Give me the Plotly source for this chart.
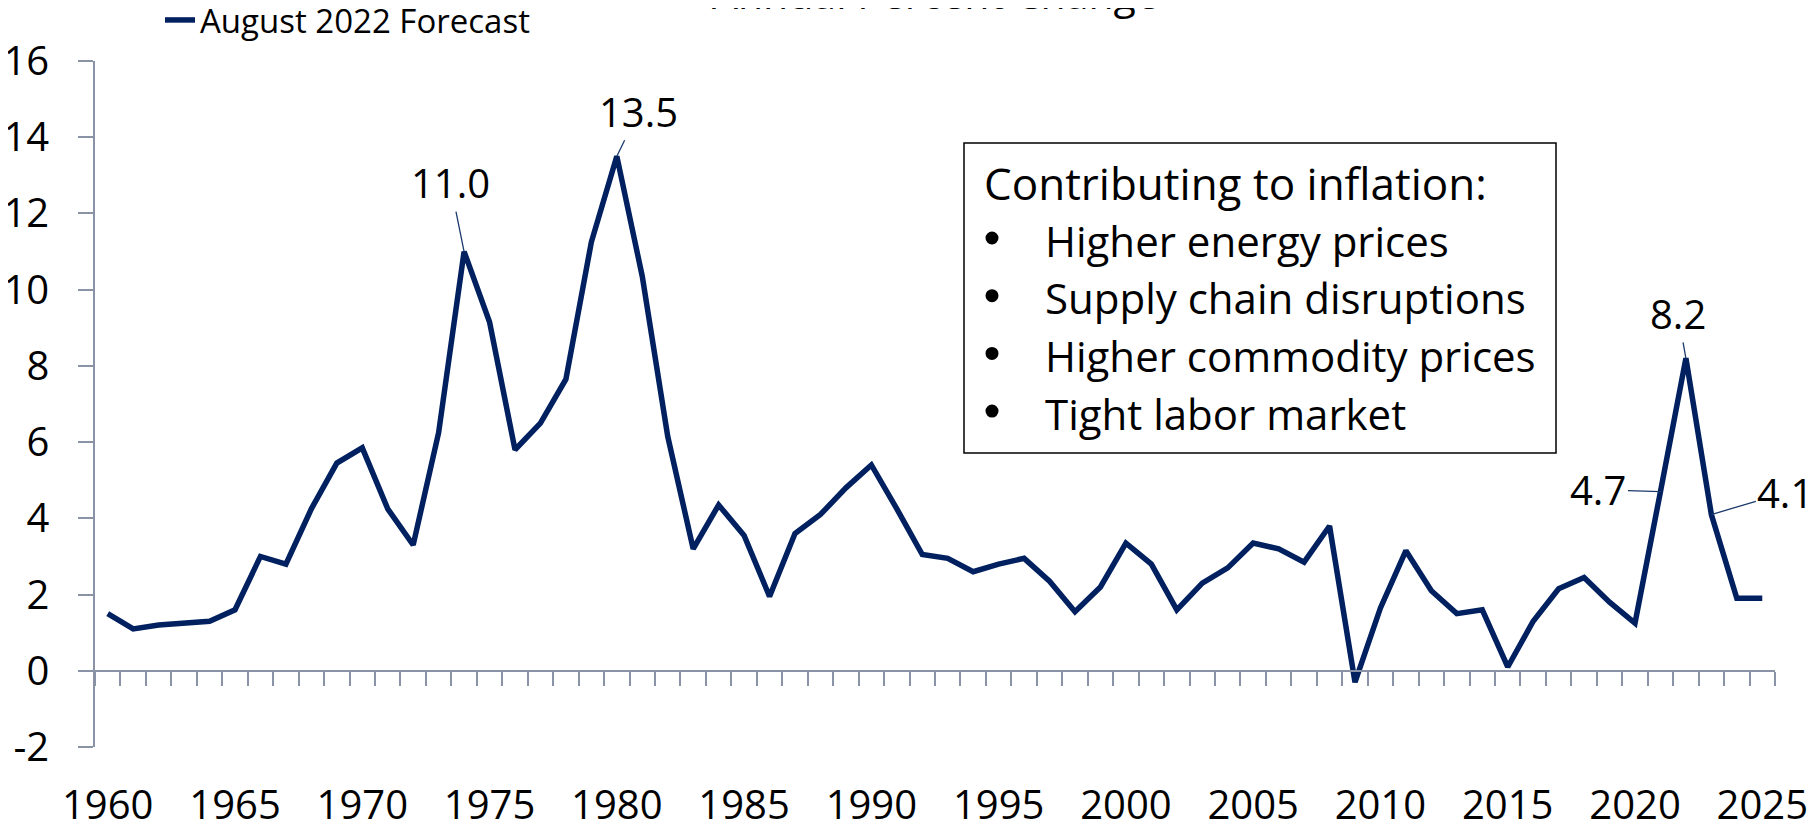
import plotly.graph_objects as go

# CPI, annual percent change (history + August 2022 forecast)
years = list(range(1960, 2026))
cpi = [1.5, 1.1, 1.2, 1.25, 1.3, 1.6, 3.0, 2.8, 4.25, 5.45,
       5.85, 4.25, 3.3, 6.25, 11.0, 9.15, 5.8, 6.5, 7.65, 11.25,
       13.5, 10.35, 6.15, 3.2, 4.35, 3.55, 1.95, 3.6, 4.1, 4.8,
       5.4, 4.25, 3.05, 2.95, 2.6, 2.8, 2.95, 2.35, 1.55, 2.2,
       3.35, 2.8, 1.6, 2.3, 2.7, 3.35, 3.2, 2.85, 3.8, -0.3,
       1.65, 3.15, 2.1, 1.5, 1.6, 0.1, 1.3, 2.15, 2.45, 1.8,
       1.25, 4.7, 8.2, 4.1, 1.9, 1.9]
label_years = years[::5]
y_ticks = list(range(-2, 17, 2))
callouts = {1974: "11.0", 1980: "13.5", 2021: "4.7", 2022: "8.2", 2023: "4.1"}
callout_offsets = {1974: (-14, -69), 1980: (22, -45), 2021: (-62, -2),
                   2022: (-8, -45), 2023: (74, -22)}
box_title = "Contributing to inflation:"
box_items = ["Higher energy prices", "Supply chain disruptions",
             "Higher commodity prices", "Tight labor market"]

# page is 1820x828 but the html body has an 8px margin
OFF = 8
W, H = 1820 - OFF, 828 - OFF
PL, PR, PT, PB = 95, 1775, 61, 747          # plot area in page pixels
ML, MR, MT, MB = PL - OFF, 1820 - PR, PT - OFF, 828 - PB
PW, PH = PR - PL, PB - PT
NAVY = "#002060"
AXIS = "#8A93A5"
FONT = "Open Sans"


def px_x(x):
    return (x - PL) / PW


def px_y(y):
    return (PB - y) / PH


fig = go.Figure()
fig.add_trace(go.Scatter(x=years, y=cpi, mode="lines", name="August 2022 Forecast",
                         line=dict(color=NAVY, width=5.5)))

annotations = []
for yr, txt in callouts.items():
    ax, ay = callout_offsets[yr]
    annotations.append(dict(x=yr, y=cpi[years.index(yr)], text=txt, showarrow=True,
                            arrowhead=0, arrowwidth=1.3, arrowcolor="#1B3A6B",
                            ax=ax, ay=ay, font=dict(size=40, color="black", family=FONT)))

annotations.append(dict(xref="paper", yref="paper", x=0.5, y=px_y(23), yanchor="bottom",
                        text="Annual Percent Change", showarrow=False,
                        font=dict(size=41, color="black", family=FONT)))

# text box with the list of drivers
fig.add_shape(type="rect", xref="paper", yref="paper",
              x0=px_x(964), x1=px_x(1556), y0=px_y(453), y1=px_y(143),
              line=dict(color="black", width=1.5), fillcolor="white", layer="below")
annotations.append(dict(xref="paper", yref="paper", x=px_x(982), y=px_y(183),
                        xanchor="left", yanchor="middle", text=box_title, showarrow=False,
                        font=dict(size=44, color="black", family=FONT)))
for i, item in enumerate(box_items):
    yy = 240 + i * 57.7
    fig.add_shape(type="circle", xref="paper", yref="paper",
                  xsizemode="pixel", ysizemode="pixel",
                  xanchor=px_x(992), yanchor=px_y(yy - 2),
                  x0=-6.5, x1=6.5, y0=-6.5, y1=6.5,
                  fillcolor="black", line=dict(width=0))
    annotations.append(dict(xref="paper", yref="paper", x=px_x(1043), y=px_y(yy),
                            xanchor="left", yanchor="middle", text=item, showarrow=False,
                            font=dict(size=42, color="black", family=FONT)))

boundaries = [y - 0.5 for y in years] + [years[-1] + 0.5]
xrange = [boundaries[0], boundaries[-1]]

fig.update_layout(
    width=W, height=H,
    margin=dict(l=ML, r=MR, t=MT, b=MB, autoexpand=False),
    plot_bgcolor="white", paper_bgcolor="white",
    font=dict(family=FONT, color="black"),
    showlegend=True,
    legend=dict(x=px_x(160), y=px_y(20), xanchor="left", yanchor="middle",
                bgcolor="rgba(0,0,0,0)", font=dict(size=33, family=FONT)),
    xaxis=dict(range=xrange, anchor="free", position=2 / 18,
               showgrid=False, zeroline=False, showline=True, linecolor=AXIS, linewidth=1.5,
               tickmode="array", tickvals=label_years, ticks="",
               ticklabelstandoff=99, tickfont=dict(size=40, family=FONT),
               minor=dict(tickmode="array", tickvals=boundaries, ticks="outside",
                          ticklen=14, tickcolor=AXIS, tickwidth=1.5, showgrid=False)),
    yaxis=dict(range=[-2, 16], tickmode="array", tickvals=y_ticks,
               ticktext=[str(v) for v in y_ticks], showgrid=False, zeroline=False,
               showline=True, linecolor=AXIS, linewidth=1.5, ticks="outside", ticklen=15,
               tickcolor=AXIS, tickwidth=1.5, ticklabelstandoff=21,
               tickfont=dict(size=40, family=FONT)),
    annotations=annotations,
)

fig.write_html("out.html")
